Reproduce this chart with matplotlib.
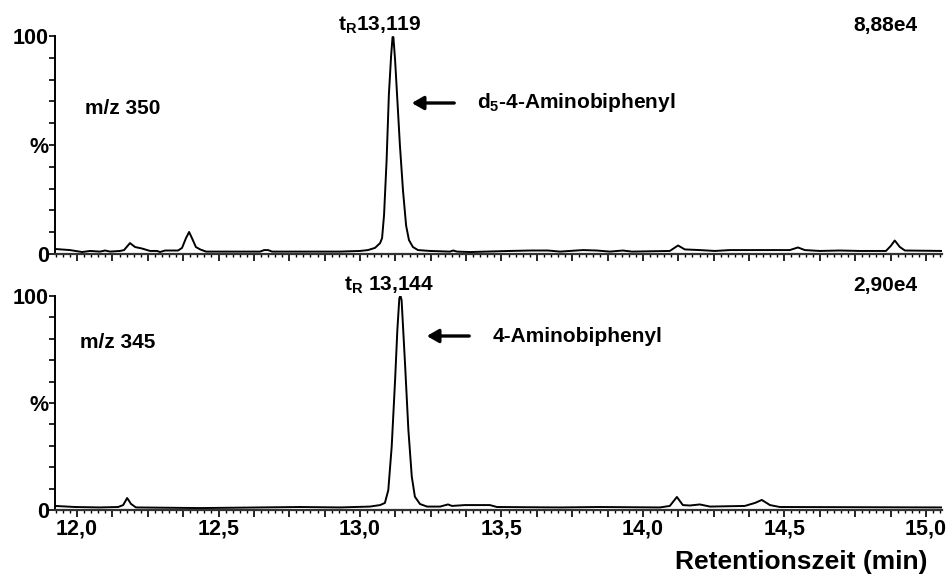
import numpy as np
import matplotlib
matplotlib.use('Agg')
import matplotlib.pyplot as plt
from matplotlib.ticker import MultipleLocator, FixedLocator, FuncFormatter

plt.rcParams['font.family'] = ['Liberation Sans', 'DejaVu Sans']
plt.rcParams['font.weight'] = 'bold'
plt.rcParams['mathtext.fontset'] = 'custom'
plt.rcParams['mathtext.rm'] = 'Liberation Sans:bold'
plt.rcParams['mathtext.it'] = 'Liberation Sans:bold'
plt.rcParams['mathtext.bf'] = 'Liberation Sans:bold'

# ----------------------------------------------------------------------------------------------------------------------
# data (time in min, relative intensity in %)

t_350 = [11.922, 11.975, 12.018, 12.046, 12.081, 12.099, 12.117, 12.152, 12.166, 12.187, 12.205, 12.230, 12.258,
         12.283, 12.293, 12.311, 12.357, 12.371, 12.385, 12.396, 12.406, 12.420, 12.435, 12.456, 12.647, 12.661,
         12.675, 12.689, 12.929, 13.000, 13.028, 13.053, 13.071, 13.078, 13.085, 13.094, 13.102, 13.110, 13.115,
         13.118, 13.124, 13.131, 13.141, 13.152, 13.163, 13.173, 13.187, 13.205, 13.247, 13.318, 13.329, 13.343,
         13.389, 13.530, 13.601, 13.664, 13.707, 13.788, 13.837, 13.883, 13.929, 13.961, 14.095, 14.124, 14.148,
         14.201, 14.254, 14.307, 14.519, 14.548, 14.572, 14.625, 14.696, 14.767, 14.859, 14.876, 14.890, 14.908,
         14.926, 15.057]
i_350 = [2.3, 1.8, 0.9, 1.4, 1.1, 1.6, 1.1, 1.4, 1.8, 5.0, 3.2, 2.5, 1.4,
         1.4, 0.9, 1.6, 1.6, 2.8, 7.3, 10.1, 7.3, 3.2, 2.1, 1.1, 1.1, 1.8,
         1.8, 1.1, 1.1, 1.4, 1.8, 2.8, 5.0, 7.3, 17.9, 43.0, 73.0, 91.0, 99.5,
         99.5, 89.0, 73.0, 50.0, 29.0, 13.0, 6.4, 3.2, 1.8, 1.4, 1.1, 1.6, 1.1,
         0.9, 1.4, 1.6, 1.6, 1.1, 1.8, 1.6, 1.1, 1.6, 1.1, 1.4, 3.9, 2.1,
         1.8, 1.4, 1.8, 1.8, 3.0, 1.8, 1.4, 1.6, 1.4, 1.4, 3.7, 6.2, 3.2,
         1.6, 1.4]

t_345 = [11.922, 11.993, 12.081, 12.145, 12.163, 12.177, 12.191, 12.208, 12.435, 12.647, 12.788, 12.929, 13.035,
         13.071, 13.088, 13.100, 13.112, 13.124, 13.132, 13.139, 13.143, 13.147, 13.159, 13.171, 13.183, 13.194,
         13.212, 13.237, 13.283, 13.311, 13.325, 13.371, 13.459, 13.484, 13.707, 13.848, 14.060, 14.095, 14.120,
         14.141, 14.166, 14.201, 14.237, 14.360, 14.396, 14.420, 14.449, 14.484, 15.057]
i_345 = [1.9, 1.4, 1.2, 1.4, 2.3, 5.6, 2.8, 1.2, 0.9, 1.2, 1.4, 1.2, 1.6,
         2.3, 3.3, 9.3, 29.6, 60.7, 84.1, 99.0, 100.0, 98.1, 68.7, 37.4, 15.6, 6.2,
         2.8, 1.6, 1.6, 2.6, 1.9, 2.3, 2.3, 1.4, 1.2, 1.4, 1.2, 1.9, 6.1,
         2.3, 2.1, 2.6, 1.6, 1.9, 3.3, 4.7, 2.3, 1.4, 1.2]

# ----------------------------------------------------------------------------------------------------------------------
# figure

W, H = 946, 582
f = plt.figure(figsize=(W / 100, H / 100), dpi=100)


def box(left, top, right, bottom):
    return [left / W, 1 - bottom / H, (right - left) / W, (bottom - top) / H]


ax1 = f.add_axes(box(55, 36, 942, 254))
ax2 = f.add_axes(box(55, 296, 942, 510))


def xfmt(v, pos):
    if abs(v * 2 - round(v * 2)) < 1e-6:
        return '{:.1f}'.format(v).replace('.', ',')
    return ''


for ax, t, i in [(ax1, t_350, i_350), (ax2, t_345, i_345)]:
    ax.plot(t, i, color='black', linewidth=1.4, solid_joinstyle='round')
    ax.set_xlim(11.922, 15.057)
    ax.set_ylim(0, 100)
    ax.spines['top'].set_visible(False)
    ax.spines['right'].set_visible(False)
    ax.spines['left'].set_linewidth(1.4)
    ax.spines['bottom'].set_linewidth(1.6)
    ax.spines['bottom'].set_color('#333333')
    ax.xaxis.set_major_locator(MultipleLocator(0.125))
    ax.xaxis.set_minor_locator(MultipleLocator(0.025))
    ax.yaxis.set_major_locator(FixedLocator(np.arange(0, 101, 10)))
    ax.yaxis.set_major_formatter(FuncFormatter(lambda v, p: {0: '0', 50: '%', 100: '100'}.get(int(round(v)), '')))
    ax.tick_params(axis='x', which='major', length=5, width=1.2, direction='out', labelsize=15.5, pad=1)
    ax.tick_params(axis='x', which='minor', length=2.5, width=1.0, direction='out')
    ax.tick_params(axis='y', which='major', length=4.5, width=1.2, direction='out', labelsize=15.5, pad=0)
    ax.set_facecolor('none')

ax1.xaxis.set_major_formatter(FuncFormatter(lambda v, p: ''))
ax2.xaxis.set_major_formatter(FuncFormatter(xfmt))
for lab in ax1.get_yticklabels() + ax2.get_yticklabels() + ax2.get_xticklabels():
    lab.set_fontweight('bold')


def px(x, y):
    return x / W, 1 - y / H


fs = 15
# annotations top panel
f.text(*px(380, 25), r't$_{\mathregular{R}}$13,119', ha='center', va='center', fontsize=fs, fontweight='bold')
f.text(*px(885, 25), '8,88e4', ha='center', va='center', fontsize=fs, fontweight='bold')
f.text(*px(85, 109), 'm/z 350', ha='left', va='center', fontsize=fs, fontweight='bold')
f.text(*px(477, 103), r'd$_{\mathregular{5}}$-4-Aminobiphenyl', ha='left', va='center', fontsize=fs, fontweight='bold')
f.add_artist(matplotlib.patches.FancyArrowPatch(px(457, 103), px(409, 103), transform=f.transFigure,
                                                arrowstyle='-|>,head_length=7,head_width=4', color='black',
                                                linewidth=2.4, mutation_scale=1))

# annotations bottom panel
f.text(*px(389, 285), r't$_{\mathregular{R}}$ 13,144', ha='center', va='center', fontsize=fs, fontweight='bold')
f.text(*px(885, 285), '2,90e4', ha='center', va='center', fontsize=fs, fontweight='bold')
f.text(*px(80, 343), 'm/z 345', ha='left', va='center', fontsize=fs, fontweight='bold')
f.text(*px(493, 337), '4-Aminobiphenyl', ha='left', va='center', fontsize=fs, fontweight='bold')
f.add_artist(matplotlib.patches.FancyArrowPatch(px(472, 336), px(424, 336), transform=f.transFigure,
                                                arrowstyle='-|>,head_length=7,head_width=4', color='black',
                                                linewidth=2.4, mutation_scale=1))

f.text(*px(927, 562), 'Retentionszeit (min)', ha='right', va='center', fontsize=19, fontweight='bold')

f.savefig('out.png', dpi=100)
